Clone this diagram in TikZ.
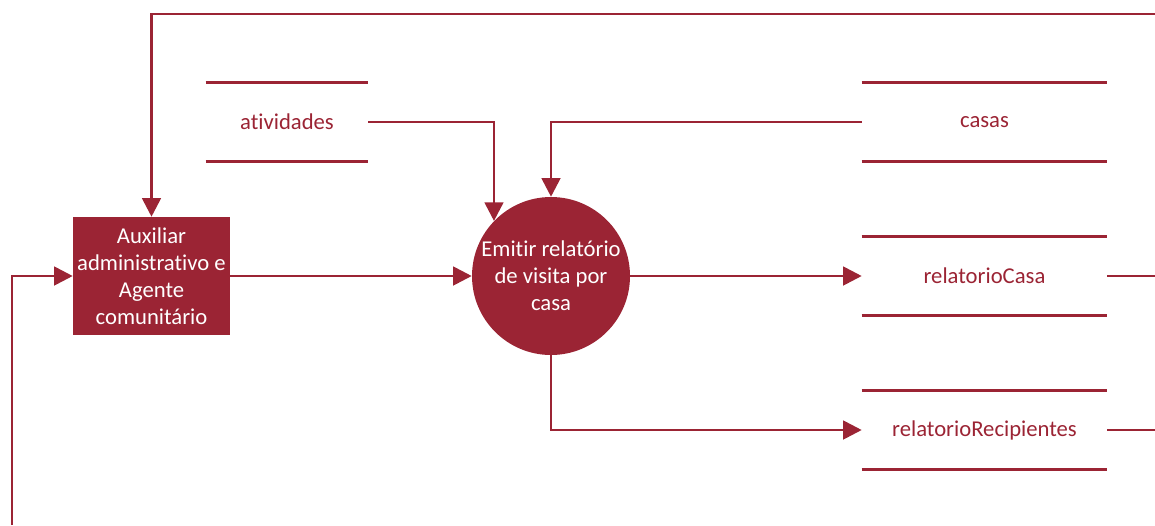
\documentclass[tikz,border=0pt]{standalone}
\usepackage{fontspec}
\setmainfont{Carlito}[Ligatures=NoCommon]
\usetikzlibrary{arrows.meta}
\definecolor{dfd_red}{RGB}{155, 36, 52}
\tikzstyle{proc}=[rectangle,fill=dfd_red,draw=none,text=white,align=center,
  inner sep=0pt,minimum width=117.75pt,minimum height=88.5pt]
\tikzstyle{act}=[circle,fill=dfd_red,draw=none,text=white,align=center,
  inner sep=0pt,minimum size=118.5pt]
\tikzstyle{store}=[rectangle,draw=none,text=dfd_red,inner sep=0pt,
  minimum height=59.25pt]
\tikzstyle{flow}=[draw=dfd_red,line width=2.1pt,-{Triangle[length=14pt,width=14pt]}]
\tikzstyle{wire}=[draw=dfd_red,line width=2.1pt]

\begin{document}
\begin{tikzpicture}[x=0.75pt,y=-0.75pt,font=\fontsize{17}{20.3}\selectfont]
    \useasboundingbox (0,0) rectangle (1155,525);
    \node [style=proc] (aux) at (151.5,276) {Auxiliar\\administrativo e\\Agente\\comunitário};
    \node [style=act] (emit) at (551,276) {Emitir relatório\\de visita por\\casa};
    \node [style=store, minimum width=121.5pt] (atv) at (287,122) {atividades};
    \node [style=store, minimum width=183.75pt] (casas) at (984.5,122) {casas};
    \node [style=store, minimum width=183.75pt] (rcasa) at (984.5,276) {relatorioCasa};
    \node [style=store, minimum width=183.75pt] (rrec) at (984.5,430) {relatorioRecipientes};
    \coordinate (topR) at (1155,14);
    \coordinate (botL) at (12,525);
    \coordinate (rcasaR) at (1155,276);
    \coordinate (rrecR) at (1155,430);
    % store lines
    \foreach \s in {atv,casas,rcasa,rrec} {
      \draw [style=wire] (\s.north west) to (\s.north east);
      \draw [style=wire] (\s.south west) to (\s.south east);
    }
    \draw [style=flow] (topR) -| (aux);
    \draw [style=flow] (botL) |- (aux);
    \draw [style=flow] (aux) to (emit);
    \draw [style=flow] (atv.east) -| (emit.136);
    \draw [style=flow] (casas.west) -| (emit);
    \draw [style=flow] (emit) to (rcasa.west);
    \draw [style=flow] (emit) |- (rrec.west);
    \draw [style=wire] (rcasa.east) to (rcasaR);
    \draw [style=wire] (rrec.east) to (rrecR);
\end{tikzpicture}
\end{document}
